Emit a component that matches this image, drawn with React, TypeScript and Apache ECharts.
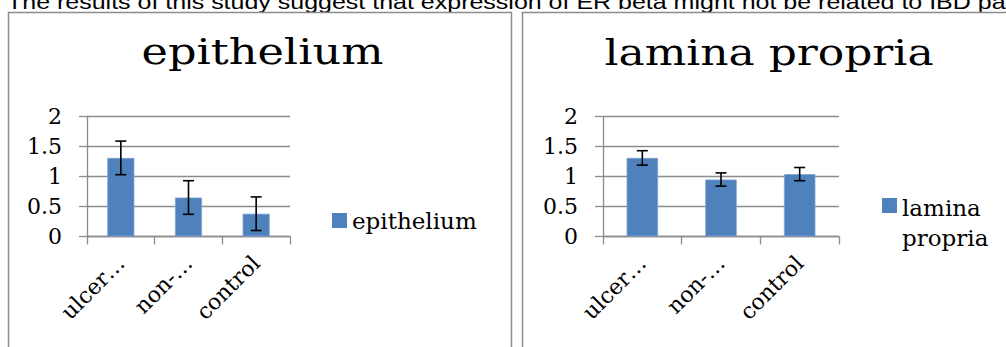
import React, { useEffect, useRef } from "react";
import * as echarts from "echarts";

const categories = ["ulcer…", "non-…", "control"];
const epitheliumValues = [1.31, 0.65, 0.38];
const epitheliumErrors = [0.28, 0.28, 0.28];
const laminaValues = [1.31, 0.95, 1.04];
const laminaErrors = [0.12, 0.11, 0.11];
const yTicks = [0, 0.5, 1, 1.5, 2];
const leftTitle = "epithelium";
const rightTitle = "lamina propria";
const topText =
  "The results of this study suggest that expression of ER beta might not be related to IBD pathogenesis";

const SERIF = "'DejaVu Serif', serif";
const BAR = "#4f81bd";
const GRID = "#8c8c8c";

function errorRender(params: any, api: any) {
  const x = api.value(0);
  const v = api.value(1);
  const e = api.value(2);
  const hi = api.coord([x, v + e]);
  const lo = api.coord([x, v - e]);
  const w = 5.5;
  const st = { stroke: "#000", lineWidth: 1.6 };
  return {
    type: "group",
    children: [
      { type: "line", shape: { x1: hi[0], y1: hi[1], x2: lo[0], y2: lo[1] }, style: st },
      { type: "line", shape: { x1: hi[0] - w, y1: hi[1], x2: hi[0] + w, y2: hi[1] }, style: st },
      { type: "line", shape: { x1: lo[0] - w, y1: lo[1], x2: lo[0] + w, y2: lo[1] }, style: st },
    ],
  };
}

function makeX(gridIndex: number) {
  return {
    type: "category",
    gridIndex,
    data: categories,
    boundaryGap: true,
    axisLine: { show: true, lineStyle: { color: GRID, width: 1.3 } },
    axisTick: { show: true, length: 8, alignWithLabel: false, lineStyle: { color: GRID, width: 1.3 } },
    axisLabel: {
      rotate: 45,
      interval: 0,
      margin: 23,
      color: "#000",
      fontFamily: SERIF,
      fontSize: 22,
    },
    splitLine: { show: false },
  };
}

function makeY(gridIndex: number) {
  return {
    type: "value",
    gridIndex,
    min: yTicks[0],
    max: yTicks[yTicks.length - 1],
    interval: 0.5,
    axisLine: { show: true, lineStyle: { color: GRID, width: 1.3 } },
    axisTick: { show: true, length: 8, lineStyle: { color: GRID, width: 1.3 } },
    axisLabel: {
      margin: 25,
      color: "#000",
      fontFamily: SERIF,
      fontSize: 22,
      formatter: (v: number) => String(v),
    },
    splitLine: { show: true, lineStyle: { color: GRID, width: 1.3 } },
  };
}

const squareIcon = "path://M0 0h15v15H0z";
const tallIcon = "path://M0 0h15v15H0z M0 49.99h0.01v0.01H0z";

export default function App() {
  const ref = useRef<HTMLDivElement>(null);
  useEffect(() => {
    if (!ref.current) return;
    const chart = echarts.init(ref.current, null, { renderer: "svg" });
    chart.setOption({
      animation: false,
      backgroundColor: "#fff",
      graphic: [
        {
          type: "text",
          x: 7,
          y: 2,
          scaleX: 1.25,
          style: {
            text: topText,
            font: "20px 'Liberation Sans', Arial, sans-serif",
            fill: "#000",
            verticalAlign: "middle",
            align: "left",
          },
        },
        {
          type: "rect",
          shape: { x: 8.5, y: 12.5, width: 503, height: 400 },
          style: { fill: "none", stroke: GRID, lineWidth: 1.5 },
        },
        {
          type: "rect",
          shape: { x: 522.5, y: 12.5, width: 600, height: 400 },
          style: { fill: "none", stroke: GRID, lineWidth: 1.5 },
        },
        {
          type: "text",
          x: 262.5,
          y: 52,
          scaleX: 1.24,
          style: {
            text: leftTitle,
            font: "36px 'DejaVu Serif', serif",
            fill: "#000",
            align: "center",
            verticalAlign: "middle",
          },
        },
        {
          type: "text",
          x: 769,
          y: 52,
          scaleX: 1.22,
          style: {
            text: rightTitle,
            font: "36px 'DejaVu Serif', serif",
            fill: "#000",
            align: "center",
            verticalAlign: "middle",
          },
        },
      ],
      legend: [
        {
          data: [leftTitle],
          left: 332,
          top: 209,
          padding: 0,
          itemWidth: 15,
          itemHeight: 15,
          icon: squareIcon,
          selectedMode: false,
          itemStyle: { color: BAR, borderWidth: 0 },
          textStyle: { fontFamily: SERIF, fontSize: 23, color: "#000" },
        },
        {
          data: [rightTitle],
          left: 882,
          top: 193,
          padding: 0,
          itemWidth: 15,
          itemHeight: 50,
          icon: tallIcon,
          selectedMode: false,
          itemStyle: { color: BAR, borderWidth: 0 },
          formatter: () => "lamina\npropria",
          textStyle: {
            fontFamily: SERIF,
            fontSize: 23,
            color: "#000",
            lineHeight: 30,
          },
        },
      ],
      grid: [
        { left: 87, top: 116.5, width: 203, height: 120 },
        { left: 603, top: 116.5, width: 236, height: 120 },
      ],
      xAxis: [makeX(0), makeX(1)],
      yAxis: [makeY(0), makeY(1)],
      series: [
        {
          name: leftTitle,
          type: "bar",
          xAxisIndex: 0,
          yAxisIndex: 0,
          barWidth: "40%",
          itemStyle: { color: BAR, borderColor: "#7fa3d3", borderWidth: 0.8 },
          data: epitheliumValues,
        },
        {
          name: "epithelium error",
          type: "custom",
          xAxisIndex: 0,
          yAxisIndex: 0,
          renderItem: errorRender,
          encode: { x: 0, y: 1 },
          data: categories.map((_, i) => [i, epitheliumValues[i], epitheliumErrors[i]]),
          z: 5,
        },
        {
          name: rightTitle,
          type: "bar",
          xAxisIndex: 1,
          yAxisIndex: 1,
          barWidth: "40%",
          itemStyle: { color: BAR, borderColor: "#7fa3d3", borderWidth: 0.8 },
          data: laminaValues,
        },
        {
          name: "lamina error",
          type: "custom",
          xAxisIndex: 1,
          yAxisIndex: 1,
          renderItem: errorRender,
          encode: { x: 0, y: 1 },
          data: categories.map((_, i) => [i, laminaValues[i], laminaErrors[i]]),
          z: 5,
        },
      ],
    });
    return () => chart.dispose();
  }, []);
  return (
    <div
      ref={ref}
      style={{ position: "fixed", left: 0, top: 0, width: 1006, height: 347, background: "#fff" }}
    />
  );
}
